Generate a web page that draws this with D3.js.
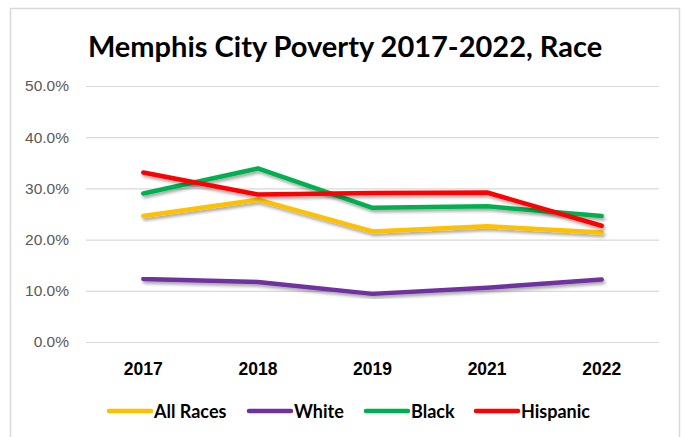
<!DOCTYPE html>
<html>
<head>
<meta charset="utf-8">
<script src="https://cdn.jsdelivr.net/npm/d3@7"></script>
<style>
  body { margin: 0; background: #fff; }
  svg { display: block; font-family: Lato, "Open Sans", sans-serif; }
</style>
</head>
<body>
<svg id="chart" width="686" height="437"></svg>
<script>
const years = ["2017", "2018", "2019", "2021", "2022"];
const allRaces = [0.246, 0.278, 0.216, 0.226, 0.214];
const white = [0.123, 0.117, 0.094, 0.106, 0.122];
const black = [0.290, 0.339, 0.262, 0.265, 0.246];
const hispanic = [0.331, 0.288, 0.291, 0.292, 0.227];
const seriesNames = ["All Races", "White", "Black", "Hispanic"];
const seriesColors = ["#FFC000", "#7030A0", "#00B050", "#FF0000"];
const yTicks = [0, 0.1, 0.2, 0.3, 0.4, 0.5];

const series = [allRaces, white, black, hispanic].map((vals, i) => ({
  name: seriesNames[i],
  color: seriesColors[i],
  values: vals.map((v, j) => ({ year: years[j], value: v }))
}));

const svg = d3.select("#chart");
const margin = { left: 86, right: 27, top: 86, bottom: 95 };
const width = 686 - margin.left - margin.right;
const height = 437 - margin.top - margin.bottom;

// chart frame
svg.append("rect")
  .attr("x", 10.5).attr("y", 8.5)
  .attr("width", 669).attr("height", 440)
  .attr("fill", "#fff")
  .attr("stroke", "#d9d9d9")
  .attr("stroke-width", 1.5);

const defs = svg.append("defs");
const filter = defs.append("filter").attr("id", "shadow")
  .attr("x", "-10%").attr("y", "-10%").attr("width", "120%").attr("height", "140%");
filter.append("feDropShadow")
  .attr("dx", 1.5).attr("dy", 2.5).attr("stdDeviation", 1.6)
  .attr("flood-color", "#000").attr("flood-opacity", 0.35);

svg.append("text")
  .attr("class", "title")
  .attr("x", 345).attr("y", 57)
  .attr("text-anchor", "middle")
  .attr("font-size", 29)
  .attr("font-weight", "bold")
  .attr("fill", "#000")
  .text("Memphis City Poverty 2017-2022, Race");

const g = svg.append("g").attr("transform", `translate(${margin.left},${margin.top})`);

const x = d3.scaleBand().domain(years).range([0, width]);
const y = d3.scaleLinear().domain([0, 0.5]).range([height, 0]);

const yAxis = g.append("g")
  .call(d3.axisLeft(y).tickValues(yTicks).tickFormat(d3.format(".1%")).tickSize(-width).tickPadding(17));
yAxis.select(".domain").remove();
yAxis.selectAll("line").attr("stroke", "#d9d9d9").attr("stroke-width", 1.2);
yAxis.selectAll("text").attr("fill", "#595959").attr("font-size", 15.5);

const xAxis = g.append("g")
  .attr("transform", `translate(0,${height})`)
  .call(d3.axisBottom(x).tickSize(0).tickPadding(21));
xAxis.select(".domain").remove();
xAxis.selectAll("text").attr("fill", "#000").attr("font-size", 17.5).attr("font-weight", "bold");

const line = d3.line()
  .x(d => x(d.year) + x.bandwidth() / 2)
  .y(d => y(d.value));

g.selectAll(".series")
  .data(series)
  .enter()
  .append("path")
  .attr("class", "series")
  .attr("d", d => line(d.values))
  .attr("fill", "none")
  .attr("stroke", d => d.color)
  .attr("stroke-width", 4.5)
  .attr("stroke-linecap", "round")
  .attr("stroke-linejoin", "round")
  .attr("filter", "url(#shadow)");

// legend
const legendX = [108, 248, 365, 475];
const legend = svg.append("g").attr("transform", "translate(0,411)");
const items = legend.selectAll("g")
  .data(series)
  .enter()
  .append("g")
  .attr("transform", (d, i) => `translate(${legendX[i]},0)`);
items.append("line")
  .attr("x1", 1).attr("x2", 43)
  .attr("stroke", d => d.color)
  .attr("stroke-width", 4.5)
  .attr("stroke-linecap", "round");
items.append("text")
  .attr("x", 46).attr("y", 6.5)
  .attr("font-size", 18).attr("font-weight", "bold")
  .attr("fill", "#000")
  .text(d => d.name);
</script>
</body>
</html>
